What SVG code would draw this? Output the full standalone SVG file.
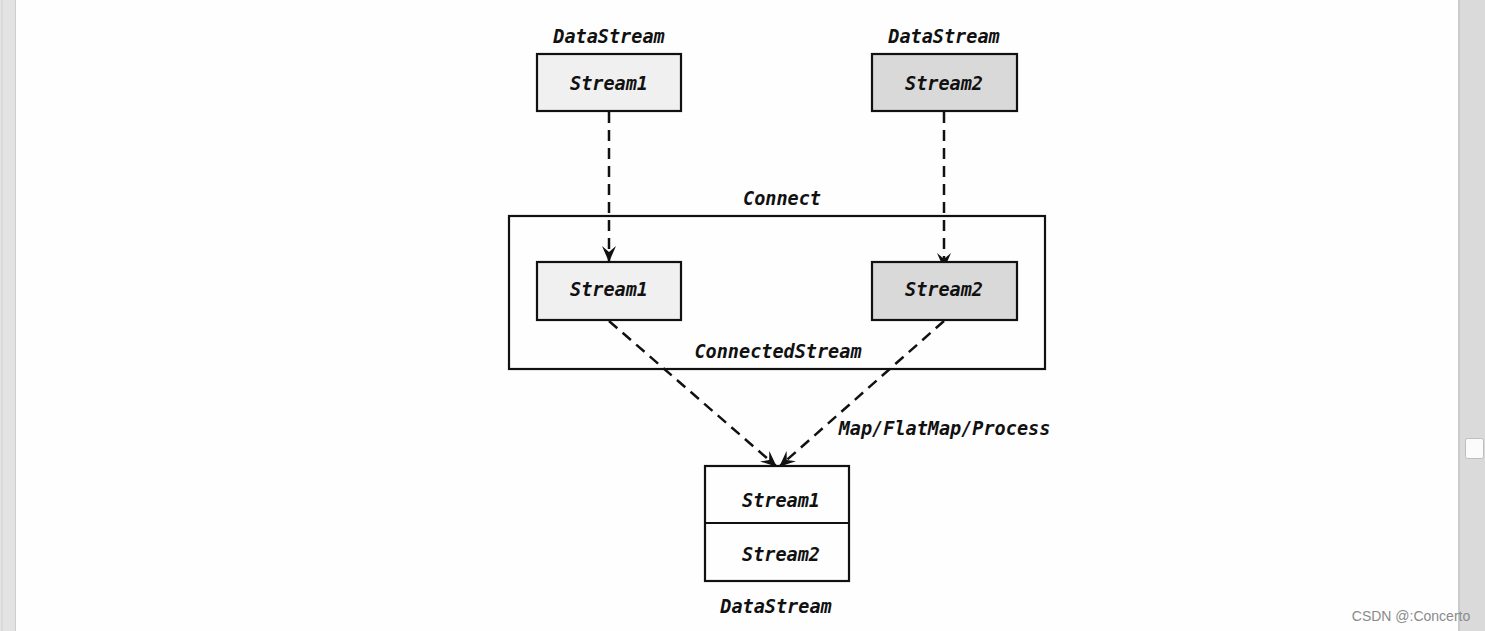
<svg xmlns="http://www.w3.org/2000/svg" width="1485" height="631" viewBox="0 0 1485 631">
<style>
.t{font-family:"DejaVu Sans Mono","Liberation Mono",monospace;font-weight:bold;font-style:italic;font-size:18.5px;fill:#111;text-anchor:middle}
.box{stroke:#111;stroke-width:2.2}
.conn{fill:none;stroke:#111;stroke-width:2.5;stroke-dasharray:11,7}
</style>
<defs>
<marker id="ah" viewBox="0 0 16 14" refX="15" refY="7" markerWidth="16" markerHeight="14" markerUnits="userSpaceOnUse" orient="auto">
<path d="M0,0 L16,7 L0,14 L6,7 z" fill="#111"/>
</marker>
</defs>
<rect x="0" y="0" width="1485" height="631" fill="#fefefe"/>
<g id="scroll-left">
<rect x="0" y="0" width="16" height="631" fill="#e3e3e3"/>
<line x1="2" y1="0" x2="2" y2="631" stroke="#cfcfcf" stroke-width="1"/>
<line x1="15.5" y1="0" x2="15.5" y2="631" stroke="#cdcdcd" stroke-width="1"/>
</g>
<g id="scroll-right">
<rect x="1458" y="0" width="27" height="631" fill="#dadada"/>
<line x1="1459" y1="0" x2="1459" y2="631" stroke="#c6c6c6" stroke-width="1.5"/>
<rect x="1465.5" y="438.5" width="18" height="20" rx="2" fill="#fbfbfb" stroke="#bdbdbd"/>
</g>
<g id="connectors">
<line class="conn" x1="609" y1="112" x2="609" y2="261" marker-end="url(#ah)"/>
<line class="conn" x1="944" y1="112" x2="944" y2="268" marker-end="url(#ah)"/>
<line class="conn" x1="609" y1="321" x2="776" y2="466" marker-end="url(#ah)"/>
<line class="conn" x1="944" y1="321" x2="780" y2="466" marker-end="url(#ah)"/>
</g>
<g id="ds1">
<text class="t" x="609" y="43">DataStream</text>
<rect class="box" x="537" y="54" width="144" height="57" fill="#f0f0f0"/>
<text class="t" x="609" y="90">Stream1</text>
</g>
<g id="ds2">
<text class="t" x="944" y="43">DataStream</text>
<rect class="box" x="872" y="54" width="145" height="57" fill="#d9d9d9"/>
<text class="t" x="944" y="90">Stream2</text>
</g>
<g id="connected">
<text class="t" x="782" y="205">Connect</text>
<rect class="box" x="509" y="216" width="536" height="153" fill="none"/>
<text class="t" x="778" y="358">ConnectedStream</text>
</g>
<g id="cs1">
<rect class="box" x="537" y="262" width="144" height="58" fill="#f0f0f0"/>
<text class="t" x="609" y="296">Stream1</text>
</g>
<g id="cs2">
<rect class="box" x="872" y="262" width="145" height="58" fill="#d9d9d9"/>
<text class="t" x="944" y="296">Stream2</text>
</g>
<g id="label-map">
<text class="t" x="944.5" y="435">Map/FlatMap/Process</text>
</g>
<g id="result">
<rect class="box" x="705" y="466" width="144" height="115" fill="#fefefe"/>
<line x1="705" y1="523" x2="849" y2="523" stroke="#111" stroke-width="2.2"/>
<text class="t" x="781" y="507">Stream1</text>
<text class="t" x="781" y="561">Stream2</text>
<text class="t" x="776" y="613">DataStream</text>
</g>
<text x="1411" y="621" font-family="Liberation Sans, Arial, sans-serif" font-size="14" fill="#8a8a8a" text-anchor="middle">CSDN @:Concerto</text>
</svg>
